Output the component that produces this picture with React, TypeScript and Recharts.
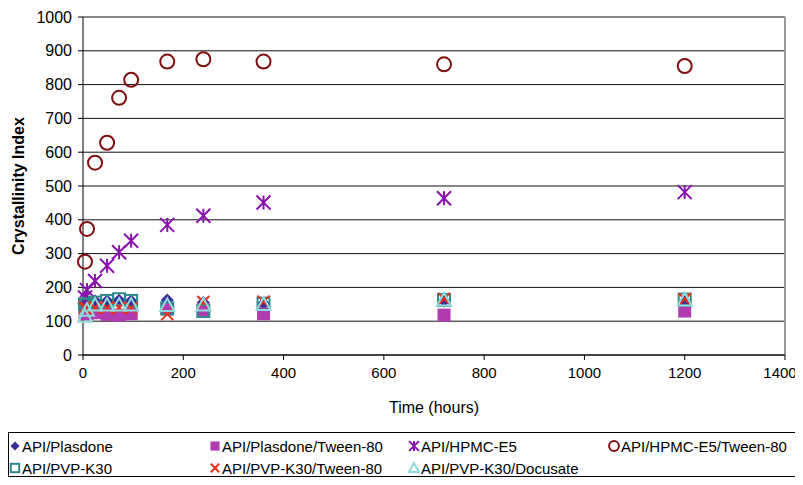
import React from "react";
import {
  ScatterChart,
  Scatter,
  XAxis,
  YAxis,
  CartesianGrid,
  ReferenceLine,
} from "recharts";

// sampling times (hours)
const times = [4, 8, 24, 48, 72, 96, 168, 240, 360, 720, 1200];

const plasdone = [150, 155, 160, 160, 162, 160, 163, 155, 152, 160, 158];
const plasdoneTween = [125, 122, 125, 120, 118, 122, 136, 134, 122, 118, 130];
const hpmc = [170, 192, 219, 264, 304, 338, 385, 412, 451, 464, 482];
const hpmcTween = [276, 373, 569, 628, 761, 814, 868, 875, 868, 860, 855];
const pvp = [150, 148, 155, 160, 165, 160, 138, 130, 152, 163, 164];
const pvpTween = [140, 138, 140, 140, 140, 138, 121, 157, 158, 166, 165];
const pvpDocusate = [115, 133, 148, 148, 148, 148, 147, 148, 150, 163, 163];

const xTicks = [0, 200, 400, 600, 800, 1000, 1200, 1400];
const yTicks = [0, 100, 200, 300, 400, 500, 600, 700, 800, 900, 1000];

type Kind = "diamond" | "fsquare" | "asterisk" | "circle" | "osquare" | "x" | "triangle";

const series: { name: string; values: number[]; kind: Kind; color: string }[] = [
  { name: "API/Plasdone", values: plasdone, kind: "diamond", color: "#3A2F9A" },
  { name: "API/Plasdone/Tween-80", values: plasdoneTween, kind: "fsquare", color: "#B03CB0" },
  { name: "API/HPMC-E5", values: hpmc, kind: "asterisk", color: "#8A10B0" },
  { name: "API/HPMC-E5/Tween-80", values: hpmcTween, kind: "circle", color: "#801010" },
  { name: "API/PVP-K30", values: pvp, kind: "osquare", color: "#2E8A8A" },
  { name: "API/PVP-K30/Tween-80", values: pvpTween, kind: "x", color: "#E8301C" },
  { name: "API/PVP-K30/Docusate", values: pvpDocusate, kind: "triangle", color: "#90DCDC" },
];

function Marker({ kind, cx, cy, color, s = 1 }: { kind: Kind; cx: number; cy: number; color: string; s?: number }) {
  switch (kind) {
    case "diamond": {
      const r = 6.5 * s;
      return <polygon points={`${cx},${cy - r} ${cx + r},${cy} ${cx},${cy + r} ${cx - r},${cy}`} fill={color} />;
    }
    case "fsquare": {
      const r = 6.5 * s;
      return <rect x={cx - r} y={cy - r} width={2 * r} height={2 * r} fill={color} />;
    }
    case "osquare": {
      const r = 6 * s;
      return <rect x={cx - r} y={cy - r} width={2 * r} height={2 * r} fill="none" stroke={color} strokeWidth={2} />;
    }
    case "circle":
      return <circle cx={cx} cy={cy} r={7 * s} fill="none" stroke={color} strokeWidth={2} />;
    case "x": {
      const r = 6 * s;
      return (
        <g stroke={color} strokeWidth={2}>
          <line x1={cx - r} y1={cy - r} x2={cx + r} y2={cy + r} />
          <line x1={cx - r} y1={cy + r} x2={cx + r} y2={cy - r} />
        </g>
      );
    }
    case "asterisk": {
      const r = 7 * s;
      return (
        <g stroke={color} strokeWidth={2}>
          <line x1={cx - r} y1={cy - r} x2={cx + r} y2={cy + r} />
          <line x1={cx - r} y1={cy + r} x2={cx + r} y2={cy - r} />
          <line x1={cx} y1={cy - r} x2={cx} y2={cy + r} />
        </g>
      );
    }
    case "triangle": {
      const r = 7 * s;
      return (
        <polygon
          points={`${cx},${cy - r} ${cx + r},${cy + r * 0.8} ${cx - r},${cy + r * 0.8}`}
          fill="none"
          stroke={color}
          strokeWidth={2}
        />
      );
    }
  }
  return null;
}

// x tick: last label nudged left a little so it is not cut by the page edge
function XTick({ x, y, payload }: any) {
  const last = payload.value === xTicks[xTicks.length - 1];
  return (
    <text x={last ? x - 5 : x} y={y + 14} textAnchor="middle" fontSize={15} fill="#000">
      {payload.value}
    </text>
  );
}

export default function App() {
  return (
    <div
      style={{
        position: "relative",
        width: 795,
        height: 469,
        fontFamily: "'Liberation Sans', Arial, sans-serif",
      }}
    >
      <ScatterChart width={795} height={420} margin={{ top: 9, right: 18, bottom: 0, left: 0 }}>
        <CartesianGrid vertical={false} stroke="#111" />
        <XAxis
          type="number"
          dataKey="t"
          domain={[0, 1400]}
          ticks={xTicks}
          interval={0}
          height={73}
          tickSize={5}
          tickMargin={4}
          stroke="#000"
          tick={<XTick />}
          label={{ value: "Time (hours)", position: "insideBottom", offset: 15, fill: "#000", fontSize: 16 }}
        />
        <YAxis
          type="number"
          dataKey="v"
          domain={[0, 1000]}
          ticks={yTicks}
          width={75}
          tickSize={5}
          tickMargin={6}
          stroke="#000"
          tick={{ fill: "#000", fontSize: 16 }}
          label={{
            value: "Crystallinity Index",
            angle: -90,
            position: "insideLeft",
            offset: 10,
            fill: "#000",
            fontSize: 16,
            fontWeight: "bold",
            style: { textAnchor: "middle" },
          }}
        />
        <ReferenceLine x={1400} stroke="#999" strokeWidth={2} />
        {series.map((s) => (
          <Scatter
            key={s.name}
            name={s.name}
            data={times.map((t, i) => ({ t, v: s.values[i] }))}
            isAnimationActive={false}
            shape={(p: any) => <Marker kind={s.kind} cx={p.cx} cy={p.cy} color={s.color} />}
          />
        ))}
      </ScatterChart>
      {/* legend box, right edge runs off the page like the original */}
      <div
        style={{
          position: "absolute",
          left: 0,
          top: 424,
          width: 795,
          height: 45,
          borderTop: "1px solid #000",
          borderLeft: "1px solid #000",
          borderBottom: "1px solid #000",
          boxSizing: "border-box",
          display: "grid",
          gridTemplateColumns: "200px 199px 200px 195px",
          gridAutoRows: "22px",
          paddingTop: 2,
          fontSize: 15,
        }}
      >
        {series.map((s) => (
          <div key={s.name} style={{ display: "flex", alignItems: "center", whiteSpace: "nowrap" }}>
            <svg width={12} height={14} style={{ marginLeft: 0 }}>
              <Marker kind={s.kind} cx={6} cy={7} color={s.color} s={0.7} />
            </svg>
            <span style={{ marginLeft: 1 }}>{s.name}</span>
          </div>
        ))}
      </div>
    </div>
  );
}
